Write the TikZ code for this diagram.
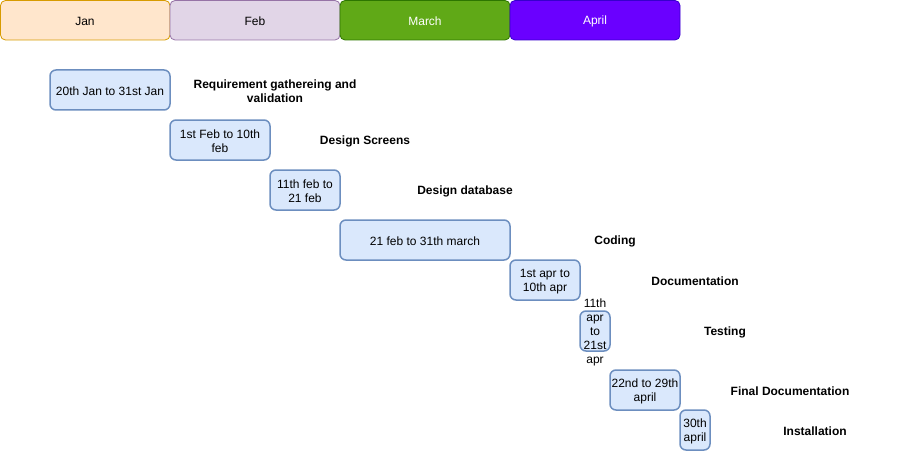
\documentclass[tikz,border=0pt]{standalone}
\usepackage{fontspec}
\setmainfont{Liberation Sans}
\definecolor{janf}{HTML}{FFE6CC}\definecolor{jans}{HTML}{D79B00}
\definecolor{febf}{HTML}{E1D5E7}\definecolor{febs}{HTML}{9673A6}
\definecolor{marf}{HTML}{60A917}\definecolor{mars}{HTML}{2D7600}
\definecolor{aprf}{HTML}{6A00FF}\definecolor{aprs}{HTML}{3700CC}
\definecolor{bluef}{HTML}{DAE8FC}\definecolor{blues}{HTML}{6C8EBF}
\begin{document}
\begin{tikzpicture}[x=1pt,y=-1pt,
  month/.style={draw,rounded corners=5pt,line width=0.8pt,font=\fontsize{12}{14}\selectfont},
  bar/.style={draw=blues,fill=bluef,rounded corners=6pt,line width=1.5pt},
  bartext/.style={font=\fontsize{12}{14}\selectfont,align=center,inner sep=0pt,yshift=-1.2pt},
  task/.style={font=\fontsize{12}{14}\selectfont\bfseries,align=center,inner sep=0pt,yshift=-1.2pt}]
\useasboundingbox (0,0) rectangle (911,452);
% months
\draw[month,draw=jans,fill=janf] (0.5,0.5) rectangle (170,40);
\node[bartext] (jan) at (85,20) {Jan};
\draw[month,draw=febs,fill=febf] (170,0.5) rectangle (340,40);
\node[bartext] (feb) at (255,20) {Feb};
\draw[month,draw=mars,fill=marf] (340,0.5) rectangle (510,40);
\node[bartext,text=white] (mar) at (425,20) {March};
\draw[month,draw=aprs,fill=aprf] (510,0.5) rectangle (680,40);
\node[bartext,text=white] (apr) at (595,20) {April};
% bars
\draw[bar] (50,70) rectangle (170,110);
\node[bartext] (b1) at (110,90) {20th Jan to 31st Jan};
\draw[bar] (170,120) rectangle (270,160);
\node[bartext] (b2) at (220,140) {1st Feb to 10th\\feb};
\draw[bar] (270,170) rectangle (340,210);
\node[bartext] (b3) at (305,190) {11th feb to\\21 feb};
\draw[bar] (340,220) rectangle (510,260);
\node[bartext] (b4) at (425,240) {21 feb to 31th march};
\draw[bar] (510,260) rectangle (580,300);
\node[bartext] (b5) at (545,280) {1st apr to\\10th apr};
\draw[bar] (580,311) rectangle (610,351);
\node[bartext] (b6) at (595,331) {11th\\apr\\to\\21st\\apr};
\draw[bar] (610,370) rectangle (680,410);
\node[bartext] (b7) at (645,390) {22nd to 29th\\april};
\draw[bar] (680,410) rectangle (710,450);
\node[bartext] (b8) at (695,430) {30th\\april};
% tasks
\node[task] (t1) at (275,90) {Requirement gathereing and\\validation};
\node[task] (t2) at (365,140) {Design Screens};
\node[task] (t3) at (465,190) {Design database};
\node[task] (t4) at (615,240) {Coding};
\node[task] (t5) at (695,280) {Documentation};
\node[task] (t6) at (725,331) {Testing};
\node[task] (t7) at (790,390) {Final Documentation};
\node[task] (t8) at (815,430) {Installation};
\end{tikzpicture}
\end{document}
